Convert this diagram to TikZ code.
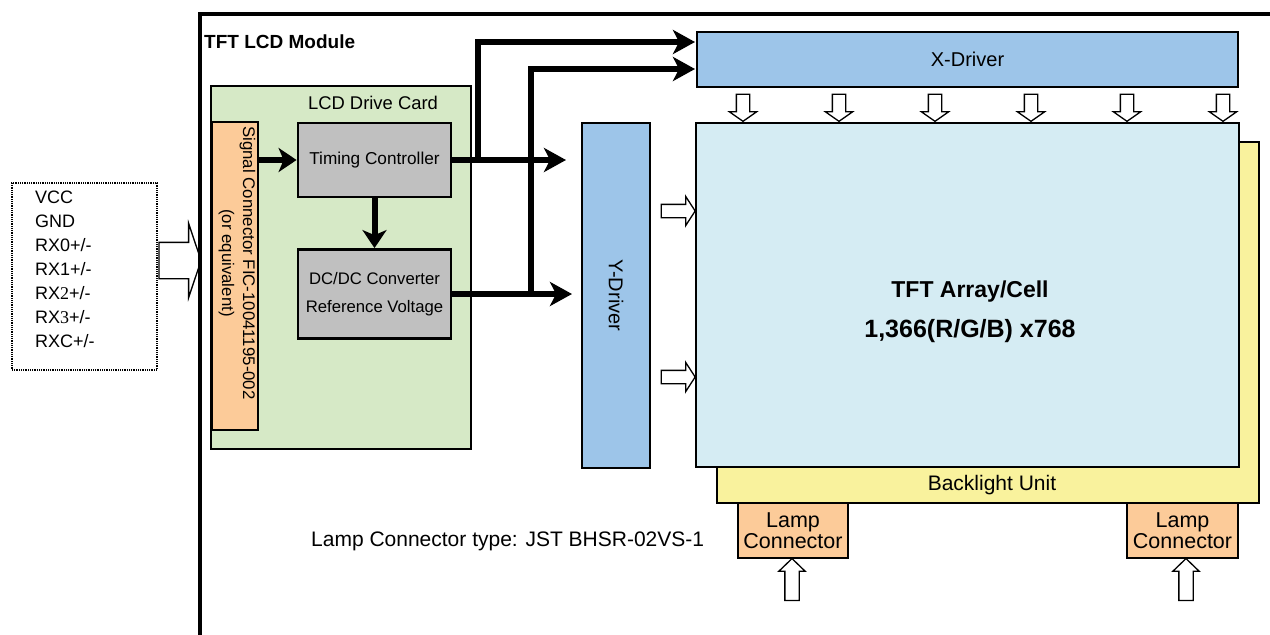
\documentclass[tikz,border=0pt]{standalone}
\usepackage{fontspec}
\setmainfont{Liberation Sans}
\newfontfamily\serifdigit{Liberation Serif}
\usetikzlibrary{arrows.meta}
\usetikzlibrary{shapes.arrows}

\definecolor{cardgreen}{RGB}{214,233,198}
\definecolor{connorange}{RGB}{252,203,153}
\definecolor{ctrlgray}{RGB}{192,192,192}
\definecolor{driverblue}{RGB}{157,197,233}
\definecolor{cellblue}{RGB}{213,236,243}
\definecolor{lampyellow}{RGB}{249,242,157}

\newcommand{\fsize}[2]{\fontsize{#1}{#2}\selectfont}

\begin{document}
\begin{tikzpicture}[x=1pt, y=-1pt,
    block/.style={draw, line width=2.8pt, inner sep=0pt},
    bus/.style={line width=6pt, -{Stealth[length=22pt, width=24pt, inset=6pt]}},
    shortbus/.style={line width=6pt, -{Stealth[length=18pt, width=24pt, inset=5pt]}},
    hollow/.style={single arrow, draw, line width=1.3pt, fill=white, inner xsep=0pt, outer sep=0pt},
    downarrow/.style={hollow, rotate=-90, minimum height=27pt, inner ysep=6pt, single arrow head extend=7pt, single arrow tip angle=110},
    rightarrow/.style={hollow, minimum height=34pt, inner ysep=6pt, single arrow head extend=8pt, single arrow tip angle=114},
    uparrow/.style={hollow, rotate=90, minimum height=42pt, inner ysep=6.5pt, single arrow head extend=6pt, single arrow tip angle=92},
    txt/.style={inner sep=0pt, font=\fsize{18}{22}},
  ]
  \useasboundingbox (0,0) rectangle (1270,635);

  % input pins
  \node[draw, line width=1.2pt, dash pattern=on 1pt off 0.8pt, minimum width=145pt, minimum height=187pt] (pinbox) at (84.5,276.5) {};
  \foreach \pinname [count=\i] in {{VCC}, {GND}, {RX0+/-}, {RX1+/-}, {RX{\serifdigit 2}+/-}, {RX{\serifdigit 3}+/-}, {RXC+/-}}
    \node[txt, anchor=base west] (pin\i) at (35,179.5+24*\i) {\pinname};
  \node[hollow, minimum height=42pt, inner ysep=17.5pt, single arrow head extend=19pt, single arrow tip angle=143] (inarrow) at (177,260.5) {};

  % module frame
  \draw[line width=3.5pt] (200,635) -- (200,14) -- (1270,14);
  \node[txt, anchor=west, font=\bfseries\fsize{19}{22}] (title) at (204,42) {TFT LCD Module};

  % drive card
  \node[block, fill=cardgreen, minimum width=260pt, minimum height=363pt] (card) at (341,267.5) {};
  \node[txt, font=\fsize{18.4}{22}] (cardlbl) at (373,103) {LCD Drive Card};
  \node[block, fill=connorange, minimum width=46pt, minimum height=308pt] (sigconn) at (235,276) {};
  \node[txt, rotate=-90, align=center, font=\fsize{16.8}{21}] (sigconnlbl) at (237,263) {Signal Connector FIC-10041195-002\\(or equivalent)};
  \node[block, fill=ctrlgray, minimum width=153pt, minimum height=74pt, font=\fsize{17.2}{21}] (tcon) at (374.5,160) {Timing Controller};
  \node[block, fill=ctrlgray, minimum width=153pt, minimum height=89pt, align=center, font=\fsize{16.7}{28}] (dcdc) at (374.5,294) {DC/DC Converter\\Reference Voltage};

  \draw[shortbus] (sigconn.east |- tcon.west) -- (tcon.west);
  \draw[shortbus] (tcon.south) -- (dcdc.north);

  % drivers
  \node[block, fill=driverblue, minimum width=541pt, minimum height=55pt, font=\fsize{20}{24}] (xdrv) at (967.5,59.5) {X-Driver};
  \node[block, fill=driverblue, rotate=-90, minimum width=345pt, minimum height=68pt, font=\fsize{20}{24}] (ydrv) at (616,295.5) {Y-Driver};

  \coordinate (yin1) at (566,160);
  \coordinate (yin2) at (572,294);
  \coordinate (br1) at (478,160);
  \coordinate (br2) at (531,294);
  \coordinate (xin1) at (695,42);
  \coordinate (xin2) at (695,69);
  \draw[bus] (tcon.east) -- (yin1);
  \draw[bus] (br1) |- (xin1);
  \draw[bus] (dcdc.east) -- (yin2);
  \draw[bus] (br2) |- (xin2);

  % panel
  \node[block, fill=lampyellow, minimum width=542pt, minimum height=361pt] (backlight) at (988,322.5) {};
  \node[txt, font=\fsize{21}{24}] (backlightlbl) at (992,485) {Backlight Unit};
  \node[block, fill=cellblue, minimum width=543pt, minimum height=344pt] (cell) at (967.5,295) {};
  \node[txt, align=center, font=\bfseries\fsize{23}{40}] (celllbl) at (970,312) {TFT Array/Cell\\{\fsize{25}{40}1,366(R/G/B) x768}};

  \foreach \k in {0,...,5}
    \node[downarrow] (xa\k) at (743+96*\k,105.5) {};
  \node[rightarrow] (ya1) at (676,211) {};
  \node[rightarrow] (ya2) at (676,377) {};

  % lamps
  \node[block, fill=connorange, minimum width=110pt, minimum height=55pt, align=center, font=\fsize{21.5}{21}] (lamp1) at (793,530.5) {Lamp\\Connector};
  \node[block, fill=connorange, minimum width=111pt, minimum height=55pt, align=center, font=\fsize{21.5}{21}] (lamp2) at (1182.5,530.5) {Lamp\\Connector};
  \node[uparrow] (la1) at (792,583) {};
  \node[uparrow] (la2) at (1186,583) {};
  \node[txt, anchor=west, font=\fsize{21}{24}] (lamptype) at (311,541) {Lamp Connector type: JST BHSR-02VS-1};
\end{tikzpicture}
\end{document}
